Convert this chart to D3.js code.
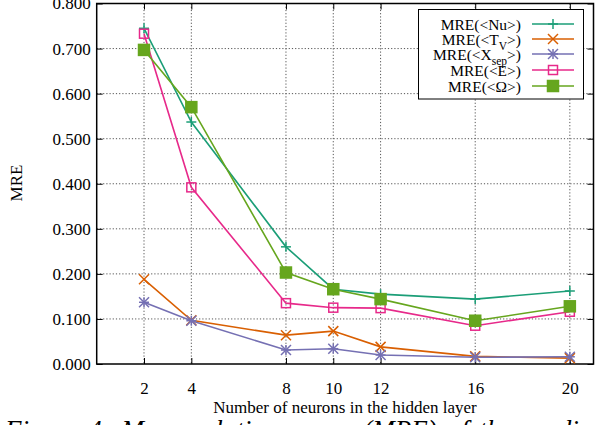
<!DOCTYPE html>
<html><head><meta charset="utf-8">
<script src="https://cdn.jsdelivr.net/npm/d3@7"></script>
<style>body{margin:0;background:#fff}svg{display:block}text{font-family:"Liberation Serif","DejaVu Serif",serif;fill:#000}</style>
</head><body><svg id="c" width="595" height="425"></svg>
<script>
const neurons = [2, 4, 8, 10, 12, 16, 20];
const xTicks = [2, 4, 8, 10, 12, 16, 20];
const yTicks = [0, 0.1, 0.2, 0.3, 0.4, 0.5, 0.6, 0.7, 0.8];
const mreNu    = [0.745, 0.537, 0.260, 0.166, 0.155, 0.144, 0.162];
const mreTv    = [0.188, 0.097, 0.064, 0.073, 0.038, 0.017, 0.013];
const mreXsep  = [0.137, 0.096, 0.031, 0.034, 0.020, 0.015, 0.016];
const mreE     = [0.733, 0.392, 0.135, 0.125, 0.124, 0.085, 0.116];
const mreOmega = [0.697, 0.570, 0.203, 0.166, 0.144, 0.096, 0.128];

const series = [
  {name: "Nu", sub: null, vals: mreNu, color: "#1b9e77", marker: "plus"},
  {name: "T", sub: "V", vals: mreTv, color: "#d95f02", marker: "cross"},
  {name: "X", sub: "sep", vals: mreXsep, color: "#7570b3", marker: "star"},
  {name: "E", sub: null, vals: mreE, color: "#e7298a", marker: "osquare"},
  {name: "Ω", sub: null, vals: mreOmega, color: "#66a61e", marker: "fsquare"}
];

const svg = d3.select("#c");
const L = 96.7, R = 593.5, T = 3.5, B = 364;
const x = d3.scaleLinear().domain([0, 21]).range([L, R]);
const y = d3.scaleLinear().domain([0, 0.8]).range([B, T]);

// grid
const g = svg.append("g");
g.selectAll(".gy").data(yTicks.slice(1, -1)).join("line")
  .attr("x1", L).attr("x2", R).attr("y1", d => y(d)).attr("y2", d => y(d))
  .attr("stroke", "#555").attr("stroke-width", 1).attr("stroke-dasharray", "1.2,2");
g.selectAll(".gx").data(xTicks).join("line")
  .attr("y1", T).attr("y2", B).attr("x1", d => x(d)).attr("x2", d => x(d))
  .attr("stroke", "#555").attr("stroke-width", 1).attr("stroke-dasharray", "1.2,2");

// axes
const axL = d3.axisLeft(y).tickValues(yTicks).tickFormat(d3.format(".3f")).tickSizeInner(-6).tickSizeOuter(0).tickPadding(30);
const axB = d3.axisBottom(x).tickValues(xTicks).tickSizeInner(-6).tickSizeOuter(0).tickPadding(18);
const axR = d3.axisRight(y).tickValues(yTicks).tickFormat("").tickSizeInner(-6).tickSizeOuter(0);
const axT = d3.axisTop(x).tickValues(xTicks).tickFormat("").tickSizeInner(-6).tickSizeOuter(0);
function style(sel){
  sel.select(".domain").remove();
  sel.selectAll("line").attr("stroke", "#000");
  sel.selectAll("text").style("font-size", "17px").attr("fill", "#000");
}
svg.append("g").attr("transform", `translate(${L},0)`).call(axL).call(style)
  .selectAll("text").attr("text-anchor", "end").attr("dx", "24");
svg.append("g").attr("transform", `translate(0,${B})`).call(axB).call(style);
svg.append("g").attr("transform", `translate(${R},0)`).call(axR).call(style);
svg.append("g").attr("transform", `translate(0,${T})`).call(axT).call(style);

svg.append("rect").attr("x", L).attr("y", T).attr("width", R - L).attr("height", B - T)
  .attr("fill", "none").attr("stroke", "#000").attr("stroke-width", 1.5);

// markers
function marker(sel, type, color, s) {
  const h = s / 2;
  if (type === "plus" || type === "star") {
    sel.append("line").attr("x1", -h).attr("x2", h).attr("y1", 0).attr("y2", 0);
    sel.append("line").attr("x1", 0).attr("x2", 0).attr("y1", -h).attr("y2", h);
  }
  if (type === "cross" || type === "star") {
    sel.append("line").attr("x1", -h).attr("x2", h).attr("y1", -h).attr("y2", h);
    sel.append("line").attr("x1", -h).attr("x2", h).attr("y1", h).attr("y2", -h);
  }
  if (type === "osquare") {
    sel.append("rect").attr("x", -h + 0.5).attr("y", -h + 0.5).attr("width", s - 1).attr("height", s - 1)
      .attr("fill", "#fff").attr("fill-opacity", 0);
  }
  if (type === "fsquare") {
    sel.append("rect").attr("x", -h).attr("y", -h).attr("width", s).attr("height", s).attr("fill", color);
  }
  sel.attr("stroke", color).attr("stroke-width", 1.5).attr("fill", "none");
}

const line = d3.line().x((d, i) => x(neurons[i])).y(d => y(d));
series.forEach(s => {
  svg.append("path").datum(s.vals).attr("d", line).attr("fill", "none")
    .attr("stroke", s.color).attr("stroke-width", 1.6);
  s.vals.forEach((v, i) => {
    const m = svg.append("g").attr("transform", `translate(${x(neurons[i])},${y(v)})`);
    marker(m, s.marker, s.color, s.marker === "fsquare" ? 11 : 10);
  });
});

// legend
const lg = svg.append("g");
lg.append("rect").attr("x", 418.5).attr("y", 9.5).attr("width", 165).attr("height", 89.5)
  .attr("fill", "#fff").attr("stroke", "#000").attr("stroke-width", 1);
const legY = [24, 39, 54, 70, 86];
series.forEach((s, i) => {
  const yy = legY[i];
  const t = lg.append("text").attr("x", 521).attr("y", yy + 5.5).attr("text-anchor", "end").style("font-size", "15.5px");
  t.append("tspan").text("MRE(<" + s.name);
  if (s.sub) t.append("tspan").attr("dy", 5).style("font-size", "11.5px").text(s.sub);
  t.append("tspan").attr("dy", s.sub ? -5 : 0).text(">)");
  lg.append("line").attr("x1", 532).attr("x2", 574).attr("y1", yy).attr("y2", yy)
    .attr("stroke", s.color).attr("stroke-width", 1.6);
  const m = lg.append("g").attr("transform", `translate(553,${yy})`);
  marker(m, s.marker, s.color, s.marker === "fsquare" ? 11 : 10);
});

// axis titles
svg.append("text").attr("transform", "translate(22,183) rotate(-90)").attr("text-anchor", "middle")
  .style("font-size", "17px").text("MRE");
svg.append("text").attr("x", 345).attr("y", 413).attr("text-anchor", "middle")
  .style("font-size", "17px").text("Number of neurons in the hidden layer");
// clipped caption from the source page
svg.append("text").attr("x", 5).attr("y", 439).style("font-size", "27px").style("font-style", "italic")
  .style("word-spacing", "4px")
  .text("Figure 4: Mean relative errors (MRE) of the predi");
</script></body></html>
